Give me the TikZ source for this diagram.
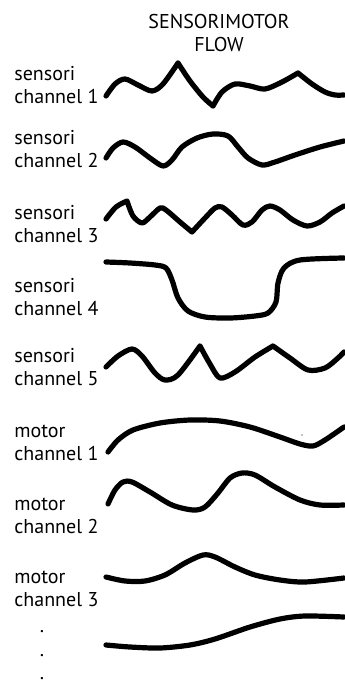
\documentclass[tikz,border=0pt]{standalone}
\usepackage{fontspec}
\setmainfont{PT Sans}
\usetikzlibrary{positioning}
\tikzset{
  chan label/.style={anchor=base west, align=left, inner sep=0pt, font=\fontsize{10}{11.5}\selectfont},
  title label/.style={anchor=base, align=center, inner sep=0pt, font=\fontsize{10}{11.5}\selectfont},
  flow wave/.style={line width=2.6pt, line cap=round, line join=round},
  flow dot/.style={inner sep=0pt, font=\fontsize{10}{11.5}\selectfont},
}

\begin{document}
\begin{tikzpicture}[x=0.5pt,y=-0.5pt]
\useasboundingbox (0,0) rectangle (344,683);
% the nodes (base = last line)
\node [title label] (title) at (219,52) {SENSORIMOTOR\\FLOW};
\node [chan label] (sens1) at (14,104) {sensori\\channel 1};
\node [chan label] (sens2) at (14,168) {sensori\\channel 2};
\node [chan label] (sens3) at (14,243) {sensori\\channel 3};
\node [chan label] (sens4) at (14,315) {sensori\\channel 4};
\node [chan label] (sens5) at (14,385) {sensori\\channel 5};
\node [chan label] (mot1) at (14,460) {motor\\channel 1};
\node [chan label] (mot2) at (14,533) {motor\\channel 2};
\node [chan label] (mot3) at (14,606) {motor\\channel 3};
\node [flow dot, anchor=base] (dotA) at (42,632) {.};
\node [flow dot, anchor=base] (dotB) at (42,656) {.};
\node [flow dot, anchor=base] (dotC) at (42,679) {.};
%drawings of waves
\draw[flow wave] plot[smooth] coordinates {(106,96) (115,84) (125,79) (138,85) (152,91) (163,84) (178,63)}
  plot[smooth] coordinates {(178,63) (190,81) (203,97) (213,106)}
  plot[smooth] coordinates {(213,106) (222,92) (235,84) (250,86) (265,89) (282,82) (298,73)}
  plot[smooth] coordinates {(298,73) (312,84) (325,92) (335,95) (344,95)};
\draw[flow wave] plot[smooth] coordinates {(106,158) (113,148) (123,142) (135,147) (150,158) (163,166) (172,160) (182,147) (197,138) (213,134) (228,136) (238,147) (248,158) (262,165) (275,162) (295,155) (320,147) (344,141)};
\draw[flow wave] plot[smooth] coordinates {(106,219) (116,207) (127,201)}
  plot[smooth] coordinates {(127,201) (133,216) (142,223) (150,217) (160,208) (166,210) (180,222) (192,232)}
  plot[smooth] coordinates {(192,232) (205,218) (215,208) (222,207) (232,215) (243,225) (252,222) (262,210) (270,206) (280,210) (293,220) (307,226) (320,222) (332,213) (344,206)};
\draw[flow wave] plot[smooth] coordinates {(106,262) (130,263) (155,265) (166,268) (172,280) (178,298) (188,311) (205,317) (230,318) (255,316) (268,313) (276,302) (278,283) (284,268) (300,260) (344,258)};
\draw[flow wave] plot[smooth] coordinates {(106,367) (118,356) (132,349) (142,356) (155,373) (165,380) (178,375) (200,346)}
  plot[smooth] coordinates {(200,346) (210,364) (220,378) (235,372) (255,357) (273,346)}
  plot[smooth] coordinates {(273,346) (290,358) (308,370) (325,368) (338,358) (344,352)};
\draw[flow wave] plot[smooth] coordinates {(108,452) (118,440) (133,430) (160,423) (190,420) (220,421) (250,427) (280,437) (300,444) (313,446) (325,440) (344,427)};
\draw[flow wave] plot[smooth] coordinates {(108,504) (115,490) (123,482) (132,482) (150,492) (172,505) (193,510) (205,507) (218,493) (230,478) (242,473) (255,475) (275,487) (300,500) (320,505) (344,505)};
\draw[flow wave] plot[smooth] coordinates {(106,577) (125,581) (145,581) (165,575) (185,563) (203,555) (215,557) (235,567) (255,575) (280,580) (305,582) (344,578)};
\draw[flow wave] plot[smooth] coordinates {(106,645) (130,647) (160,648) (190,645) (215,639) (250,627) (280,619) (305,616) (344,617)};
\fill (302,435) circle (0.6);
\end{tikzpicture}
\end{document}
